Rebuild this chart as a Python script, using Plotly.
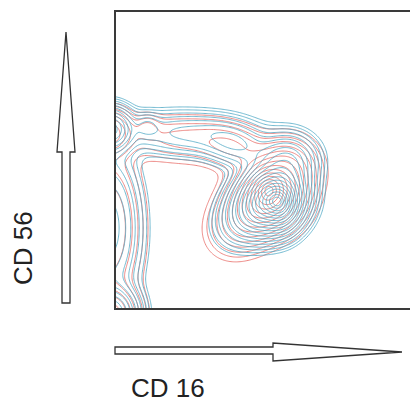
import numpy as np
import plotly.graph_objects as go

# Population components for each stain (CD16 / CD56 units, 0-100 scale):
# centre x, centre y, spread x, spread y, correlation, relative weight
blue_cx = [53.0, 56.5, 58.0, 46.0, 24.0, 10.5, -2.0, -3.0, -2.0, 41.0]
blue_cy = [36.5, 34.5, 50.0, 33.0, 59.0, 61.5, 60.5, 27.0, -2.0, 55.0]
blue_sx = [5.8, 3.0, 5.5, 6.0, 13.0, 2.5, 4.0, 6.0, 5.0, 7.0]
blue_sy = [6.0, 4.5, 5.0, 6.0, 4.3, 2.5, 4.0, 14.0, 5.0, 4.5]
blue_rho = [0.1, 0.0, 0.0, 0.3, -0.1, 0.0, 0.0, 0.0, 0.0, -0.3]
blue_w = [1.0, 0.35, 0.2, 0.2, 0.09, 0.05, 0.4, 0.2, 0.5, 0.1]

red_cx = [52.0, 51.0, 45.0, 58.0, 23.0, 10.5, -2.0, -3.0, -2.0, 40.0]
red_cy = [38.0, 42.0, 31.5, 47.0, 57.0, 61.0, 59.0, 27.0, -2.0, 53.5]
red_sx = [6.0, 3.5, 6.5, 5.5, 13.0, 2.5, 4.0, 6.0, 5.0, 7.0]
red_sy = [6.0, 3.5, 6.5, 5.5, 4.3, 2.5, 4.0, 14.0, 5.0, 4.5]
red_rho = [0.1, 0.0, 0.3, 0.0, -0.1, 0.0, 0.0, 0.0, 0.0, -0.3]
red_w = [1.0, 0.3, 0.25, 0.22, 0.08, 0.05, 0.3, 0.18, 0.4, 0.09]

grid_x = np.linspace(-12, 110, 320)
grid_y = np.linspace(-12, 110, 320)
X, Y = np.meshgrid(grid_x, grid_y)


def mixture(cx, cy, sx, sy, rho, w):
    d = np.zeros_like(X)
    for mx, my, ax, ay, r, wt in zip(cx, cy, sx, sy, rho, w):
        u = (X - mx) / ax
        v = (Y - my) / ay
        q = (u * u - 2 * r * u * v + v * v) / (1 - r * r)
        d += wt * np.exp(-0.5 * q)
    # equal-probability style radius: contours evenly spaced around each peak
    return np.sqrt(np.maximum(0.0, -2.0 * np.log(d / d.max() + 1e-300)))


z_red = mixture(red_cx, red_cy, red_sx, red_sy, red_rho, red_w)
z_blue = mixture(blue_cx, blue_cy, blue_sx, blue_sy, blue_rho, blue_w)

RED = "rgba(232,110,105,0.82)"
BLUE = "rgba(82,170,198,0.82)"

fig = go.Figure()
for z, col, step in [(z_red, RED, 0.2), (z_blue, BLUE, 0.15)]:
    fig.add_trace(go.Contour(
        x=grid_x, y=grid_y, z=z,
        contours=dict(coloring="lines", start=0.25, end=3.2, size=step),
        colorscale=[[0, col], [1, col]],
        line=dict(width=1, smoothing=1.0),
        showscale=False, hoverinfo="skip",
    ))

W, H = 410, 405
L, T, B = 116, 12, 97
PW, PH = W - L, H - T - B


def px(x):
    return (x - L) / PW


def py(y):
    return (H - B - y) / PH


def path(points):
    return "M " + " L ".join(f"{px(a):.5f},{py(b):.5f}" for a, b in points) + " Z"


# Outline arrows for the two marker axes
up_arrow = [(62, 303), (70, 303), (70, 152), (75, 152), (66, 32), (57, 152), (62, 152)]
right_arrow = [(115, 347), (273, 347), (273, 343), (402, 352), (273, 361), (273, 354), (115, 354)]
shapes = [dict(type="path", xref="paper", yref="paper", path=path(p),
               line=dict(color="#333333", width=1.3), fillcolor="white")
          for p in (up_arrow, right_arrow)]

fig.update_layout(
    width=W, height=H,
    margin=dict(l=L, r=0, t=T, b=B),
    paper_bgcolor="white", plot_bgcolor="white",
    showlegend=False,
    xaxis=dict(range=[0, 100 * PW / 296], showgrid=False, zeroline=False,
               showticklabels=False, ticks="", showline=True, mirror=True,
               linecolor="#3a3a3a", linewidth=2),
    yaxis=dict(range=[0, 100], showgrid=False, zeroline=False,
               showticklabels=False, ticks="", showline=True, mirror=False,
               linecolor="#3a3a3a", linewidth=2),
    shapes=shapes,
    annotations=[
        dict(text="CD 16", xref="paper", yref="paper", x=px(129), y=py(388),
             xanchor="left", yanchor="middle", showarrow=False,
             font=dict(family="Liberation Sans, Arial", size=26, color="#222222")),
        dict(text="CD 56", xref="paper", yref="paper", x=px(23), y=py(248),
             xanchor="center", yanchor="middle", showarrow=False, textangle=-90,
             font=dict(family="Liberation Sans, Arial", size=26, color="#222222")),
    ],
)

fig.write_html("out.html")
